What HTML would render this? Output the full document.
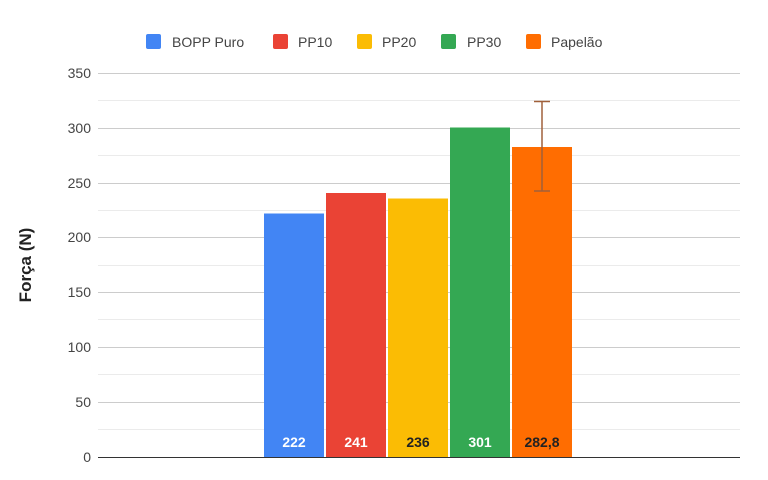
<!DOCTYPE html>
<html><head><style>body{margin:0;background:#fff}svg{display:block}text{font-family:"Liberation Sans",Arial,sans-serif}</style></head><body>
<svg width="768" height="480" xmlns="http://www.w3.org/2000/svg">
<g stroke="#ebebeb" stroke-width="1">
<line x1="98" x2="740" y1="100.5" y2="100.5"/><line x1="98" x2="740" y1="155.5" y2="155.5"/><line x1="98" x2="740" y1="210.5" y2="210.5"/><line x1="98" x2="740" y1="265.5" y2="265.5"/><line x1="98" x2="740" y1="319.5" y2="319.5"/><line x1="98" x2="740" y1="374.5" y2="374.5"/><line x1="98" x2="740" y1="429.5" y2="429.5"/>
</g>
<g stroke="#cccccc" stroke-width="1">
<line x1="98" x2="740" y1="73.5" y2="73.5"/><line x1="98" x2="740" y1="128.5" y2="128.5"/><line x1="98" x2="740" y1="183.5" y2="183.5"/><line x1="98" x2="740" y1="237.5" y2="237.5"/><line x1="98" x2="740" y1="292.5" y2="292.5"/><line x1="98" x2="740" y1="347.5" y2="347.5"/><line x1="98" x2="740" y1="402.5" y2="402.5"/>
</g>
<g font-size="14" fill="#444" text-anchor="end">
<text x="91" y="78">350</text><text x="91" y="133">300</text><text x="91" y="188">250</text><text x="91" y="242">200</text><text x="91" y="297">150</text><text x="91" y="352">100</text><text x="91" y="407">50</text><text x="91" y="462">0</text>
</g>
<text transform="translate(31,265) rotate(-90)" font-size="17" font-weight="bold" fill="#222" text-anchor="middle">Força (N)</text>
<rect x="264" y="213.5" width="60" height="243.5" fill="#4285f4"/>
<rect x="326" y="193" width="60" height="264" fill="#ea4335"/>
<rect x="388" y="198.5" width="60" height="258.5" fill="#fbbc04"/>
<rect x="450" y="127.5" width="60" height="329.5" fill="#34a853"/>
<rect x="512" y="147" width="60" height="310" fill="#ff6d01"/>
<line x1="98" x2="740" y1="457.5" y2="457.5" stroke="#333" stroke-width="1"/>
<g stroke="#a0603a" stroke-width="1.5"><line x1="542" x2="542" y1="101" y2="191"/><line x1="534" x2="550" y1="101.5" y2="101.5"/><line x1="534" x2="550" y1="191" y2="191"/></g>
<g font-size="14" font-weight="bold" text-anchor="middle">
<text x="294" y="447" fill="#fff">222</text><text x="356" y="447" fill="#fff">241</text><text x="418" y="447" fill="#222">236</text><text x="480" y="447" fill="#fff">301</text><text x="542" y="447" fill="#222">282,8</text>
</g>
<g font-size="14" fill="#444">
<rect x="146" y="34" width="15" height="15" rx="2" fill="#4285f4"/><text x="172" y="47">BOPP Puro</text>
<rect x="273" y="34" width="15" height="15" rx="2" fill="#ea4335"/><text x="298" y="47">PP10</text>
<rect x="357" y="34" width="15" height="15" rx="2" fill="#fbbc04"/><text x="382" y="47">PP20</text>
<rect x="441" y="34" width="15" height="15" rx="2" fill="#34a853"/><text x="467" y="47">PP30</text>
<rect x="526" y="34" width="15" height="15" rx="2" fill="#ff6d01"/><text x="551" y="47">Papelão</text>
</g>
</svg>
</body></html>
